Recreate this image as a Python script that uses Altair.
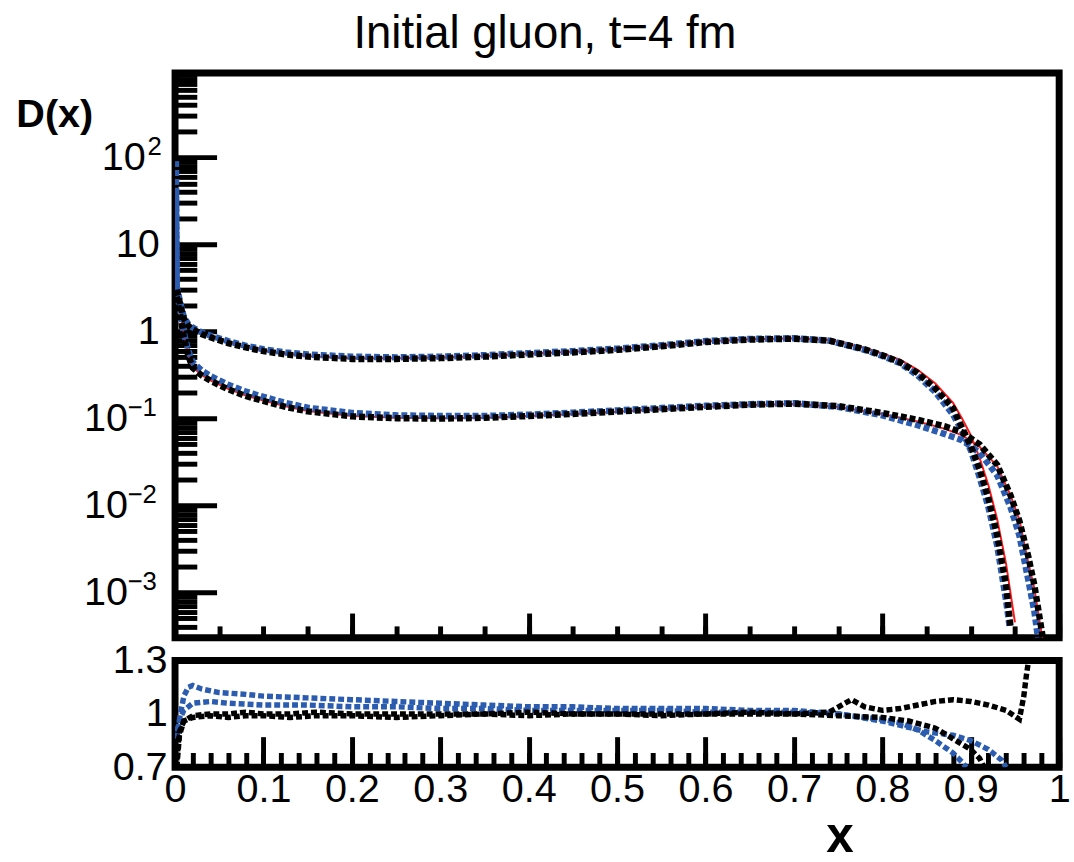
import altair as alt
import pandas as pd

TITLE = "Initial gluon, t=4 fm"
FONT = "Liberation Sans"

# ---------------- top panel: D(x) ----------------
# upper curve
up_x_red = [0.002, 0.006, 0.01, 0.015, 0.02, 0.03, 0.04, 0.06, 0.08, 0.10, 0.125, 0.15, 0.20, 0.25, 0.30,
            0.35, 0.40, 0.45, 0.50, 0.55, 0.60, 0.65, 0.70, 0.74, 0.78, 0.80, 0.82, 0.84, 0.86, 0.88,
            0.89, 0.90, 0.91, 0.92, 0.93, 0.94, 0.95]
up_y_red = [3.8, 2.1, 1.45, 1.17, 1.07, 0.95, 0.87, 0.745, 0.66, 0.6, 0.55, 0.52, 0.49, 0.49, 0.5,
            0.52, 0.55, 0.58, 0.62, 0.68, 0.76, 0.81, 0.83, 0.79, 0.64, 0.555, 0.47, 0.36, 0.25, 0.15,
            0.1, 0.064, 0.035, 0.017, 0.0068, 0.0021, 0.00045]
up_x_blue = [0.001, 0.002, 0.006, 0.01, 0.015, 0.02, 0.03, 0.04, 0.06, 0.08, 0.10, 0.125, 0.15, 0.20, 0.25,
             0.30, 0.35, 0.40, 0.45, 0.50, 0.55, 0.60, 0.65, 0.70, 0.74, 0.78, 0.80, 0.82, 0.84, 0.86,
             0.88, 0.89, 0.90, 0.91, 0.92, 0.93, 0.94, 0.944]
up_y_blue = [90, 3.2, 2.1, 1.45, 1.2, 1.1, 0.97, 0.89, 0.77, 0.68, 0.62, 0.57, 0.54, 0.51, 0.5,
             0.51, 0.53, 0.56, 0.59, 0.63, 0.69, 0.77, 0.815, 0.83, 0.78, 0.61, 0.52, 0.43, 0.31, 0.2,
             0.11, 0.072, 0.043, 0.021, 0.0095, 0.0034, 0.0008, 0.0004]
up_x_black = [0.002, 0.006, 0.01, 0.015, 0.02, 0.03, 0.04, 0.06, 0.08, 0.10, 0.125, 0.15, 0.20, 0.25, 0.30,
              0.35, 0.40, 0.45, 0.50, 0.55, 0.60, 0.65, 0.70, 0.74, 0.78, 0.80, 0.82, 0.84, 0.86, 0.88,
              0.89, 0.90, 0.91, 0.92, 0.93, 0.94, 0.945]
up_y_black = [3.0, 2.0, 1.4, 1.15, 1.05, 0.93, 0.85, 0.73, 0.65, 0.59, 0.54, 0.51, 0.48, 0.48, 0.49,
              0.51, 0.54, 0.57, 0.61, 0.67, 0.75, 0.80, 0.82, 0.78, 0.62, 0.53, 0.44, 0.33, 0.22, 0.13,
              0.078, 0.048, 0.026, 0.012, 0.0045, 0.0012, 0.0004]

# lower curve
lo_x_red = [0.002, 0.006, 0.01, 0.015, 0.02, 0.03, 0.04, 0.06, 0.08, 0.10, 0.125, 0.15, 0.20, 0.25, 0.30,
            0.35, 0.40, 0.45, 0.50, 0.55, 0.60, 0.65, 0.70, 0.75, 0.80, 0.84, 0.87, 0.89, 0.91, 0.93,
            0.945, 0.955, 0.965, 0.972, 0.978, 0.982]
lo_y_red = [3.4, 1.7, 0.88, 0.53, 0.385, 0.315, 0.272, 0.218, 0.182, 0.16, 0.137, 0.121, 0.106, 0.101, 0.1,
            0.101, 0.106, 0.112, 0.119, 0.128, 0.135, 0.142, 0.146, 0.135, 0.112, 0.092, 0.076, 0.064, 0.047, 0.028,
            0.013, 0.0068, 0.0022, 0.0011, 0.00045, 0.00026]
lo_x_blue = [0.001, 0.002, 0.006, 0.01, 0.015, 0.02, 0.03, 0.04, 0.06, 0.08, 0.10, 0.125, 0.15, 0.20, 0.25,
             0.30, 0.35, 0.40, 0.45, 0.50, 0.55, 0.60, 0.65, 0.70, 0.75, 0.80, 0.84, 0.87, 0.89, 0.91,
             0.93, 0.945, 0.955, 0.965, 0.972, 0.976]
lo_y_blue = [40, 2.9, 1.7, 0.95, 0.6, 0.44, 0.355, 0.305, 0.243, 0.202, 0.176, 0.15, 0.132, 0.115, 0.108,
             0.106, 0.106, 0.11, 0.116, 0.123, 0.131, 0.139, 0.145, 0.149, 0.135, 0.108, 0.083, 0.066, 0.056, 0.04,
             0.022, 0.0095, 0.0045, 0.0014, 0.0006, 0.0003]
lo_x_black = [0.002, 0.006, 0.01, 0.015, 0.02, 0.03, 0.04, 0.06, 0.08, 0.10, 0.125, 0.15, 0.20, 0.25, 0.30,
              0.35, 0.40, 0.45, 0.50, 0.55, 0.60, 0.65, 0.70, 0.75, 0.80, 0.84, 0.87, 0.89, 0.91, 0.93,
              0.945, 0.955, 0.965, 0.972, 0.978, 0.982]
lo_y_black = [2.5, 1.5, 0.85, 0.52, 0.38, 0.31, 0.27, 0.215, 0.18, 0.158, 0.135, 0.12, 0.105, 0.1, 0.099,
              0.101, 0.106, 0.112, 0.119, 0.127, 0.135, 0.143, 0.147, 0.138, 0.115, 0.096, 0.081, 0.069, 0.05, 0.029,
              0.013, 0.0066, 0.0026, 0.0012, 0.0005, 0.00028]

# ---------------- bottom panel: ratios ----------------
rA_x_black = [0.002, 0.005, 0.01, 0.02, 0.04, 0.06, 0.08, 0.1, 0.13, 0.16, 0.2, 0.25, 0.3, 0.35, 0.4, 0.45,
              0.5, 0.55, 0.6, 0.65, 0.7, 0.74, 0.765, 0.78, 0.8, 0.82, 0.84, 0.86, 0.88, 0.9, 0.92, 0.94,
              0.955, 0.96, 0.963, 0.966]
rA_y_black = [0.70, 0.88, 0.96, 0.98, 0.99, 0.98, 0.99, 0.99, 0.98, 0.99, 0.99, 0.98, 0.99, 1.0, 0.99, 1.0,
              1.0, 0.99, 1.0, 1.01, 1.0, 1.01, 1.08, 1.04, 1.02, 1.03, 1.05, 1.07, 1.08, 1.07, 1.05, 1.02,
              0.97, 1.1, 1.22, 1.32]
rB_x_black = [0.002, 0.005, 0.01, 0.02, 0.04, 0.06, 0.08, 0.1, 0.13, 0.16, 0.2, 0.25, 0.3, 0.35, 0.4, 0.45,
              0.5, 0.55, 0.6, 0.65, 0.7, 0.75, 0.8, 0.83, 0.86, 0.88, 0.9, 0.91, 0.915]
rB_y_black = [0.74, 0.9, 0.96, 0.99, 1.0, 1.0, 1.01, 1.0, 1.0, 1.01, 1.0, 1.0, 1.0, 1.0, 1.01, 1.0,
              1.0, 1.0, 1.0, 1.0, 1.0, 0.99, 0.98, 0.96, 0.92, 0.86, 0.8, 0.75, 0.7]
rA_x_blue = [0.002, 0.006, 0.01, 0.015, 0.02, 0.03, 0.05, 0.08, 0.1, 0.15, 0.2, 0.25, 0.3, 0.35, 0.4, 0.45,
             0.5, 0.55, 0.6, 0.65, 0.7, 0.75, 0.8, 0.85, 0.88, 0.9, 0.92, 0.935, 0.94]
rA_y_blue = [0.86, 1.0, 1.1, 1.15, 1.16, 1.14, 1.12, 1.11, 1.1, 1.09, 1.08, 1.07, 1.06, 1.05, 1.04, 1.04,
             1.03, 1.03, 1.03, 1.02, 1.02, 1.0, 0.96, 0.9, 0.88, 0.85, 0.8, 0.74, 0.7]
rB_x_blue = [0.002, 0.006, 0.01, 0.02, 0.04, 0.06, 0.1, 0.15, 0.2, 0.25, 0.3, 0.35, 0.4, 0.45, 0.5, 0.55,
             0.6, 0.65, 0.7, 0.75, 0.78, 0.8, 0.82, 0.84, 0.86, 0.88, 0.89, 0.895]
rB_y_blue = [0.9, 0.98, 1.02, 1.06, 1.07, 1.06, 1.05, 1.05, 1.04, 1.04, 1.03, 1.03, 1.02, 1.02, 1.02, 1.02,
             1.01, 1.01, 1.01, 1.0, 0.98, 0.97, 0.95, 0.91, 0.85, 0.78, 0.73, 0.7]

# ---------------- axes / ticks ----------------
# y labels of the log panel: plain ones, and "10" bases with a superscript exponent
y_plain_values = [1, 10]
y_plain_labels = ["1", "10"]
y_pos_values = [100]
y_pos_exps = ["2"]
y_neg_values = [1e-1, 1e-2, 1e-3]
y_neg_exps = ["\u22121", "\u22122", "\u22123"]
y_major_ticks = [1e-4, 1e-3, 1e-2, 1e-1, 1, 10, 100, 1000]
y_minor_ticks = [m * d for d in [1e-4, 1e-3, 1e-2, 1e-1, 1, 10, 100] for m in range(2, 10)]
y_minor_ticks = [v for v in y_minor_ticks if 3.0e-4 <= v <= 925]
x_top_major = [0, 0.2, 0.4, 0.6, 0.8, 1.0]
x_top_minor = [round(0.05 * i, 2) for i in range(21)]
x_bot_labels = [round(0.1 * i, 1) for i in range(11)]
x_bot_minor = [round(0.02 * i, 2) for i in range(51)]
r_tick_values = [0.7, 1.0, 1.3]

BLUE = "#2b5cb0"
RED = "#ff1a1a"

W, HT, HB = 894, 571, 108


def frame(curve, series, xs, ys):
    return pd.DataFrame({"x": xs, "y": ys, "curve": curve, "series": series})


top_df = pd.concat([
    frame("upper", "red", up_x_red, up_y_red),
    frame("upper", "blue", up_x_blue, up_y_blue),
    frame("upper", "black", up_x_black, up_y_black),
    frame("lower", "red", lo_x_red, lo_y_red),
    frame("lower", "blue", lo_x_blue, lo_y_blue),
    frame("lower", "black", lo_x_black, lo_y_black),
], ignore_index=True)

bot_df = pd.concat([
    frame("A", "blue", rA_x_blue, rA_y_blue),
    frame("B", "blue", rB_x_blue, rB_y_blue),
    frame("A", "black", rA_x_black, rA_y_black),
    frame("B", "black", rB_x_black, rB_y_black),
], ignore_index=True)

xs_top = alt.Scale(domain=[0, 1], nice=False, zero=False)
ys_top = alt.Scale(type="log", domain=[3.0e-4, 925], nice=False)
xs_bot = alt.Scale(domain=[0, 1], nice=False, zero=False)
ys_bot = alt.Scale(domain=[0.7, 1.3], nice=False, zero=False)


def make_expr(values, labels):
    expr = "''"
    for v, lab in zip(values, labels):
        expr = f"(datum.value > {v * 0.5} && datum.value < {v * 2}) ? '{lab}' : " + expr
    return expr


def label_axis(values, labels, size, padding, offset=0, **extra):
    return alt.Axis(orient="left", values=values, labelExpr=make_expr(values, labels), ticks=False,
                    tickSize=0, domain=False, grid=False, labelFontSize=size, labelPadding=padding,
                    labelOffset=offset, labelColor="black", labelFont=FONT, **extra)


y_label_axis = label_axis(y_plain_values, y_plain_labels, 40, 16,
                          title="D(x)", titleAngle=0, titleX=-161, titleY=54, titleAlign="left",
                          titleBaseline="alphabetic", titleFontSize=40, titleFontWeight="bold",
                          titleFont=FONT, titleColor="black")


def data_layer(df, series, color, dash, width, xscale, yscale, xaxis=None, yaxis=None):
    m = dict(color=color, strokeWidth=width, clip=True)
    if dash:
        m["strokeDash"] = dash
    return alt.Chart(df).transform_filter(alt.datum.series == series).mark_line(**m).encode(
        x=alt.X("x:Q", scale=xscale, axis=xaxis),
        y=alt.Y("y:Q", scale=yscale, axis=yaxis),
        detail="curve:N",
    )


def tick_axis(orient, offset, values, size):
    return alt.Axis(orient=orient, offset=offset, values=values, labels=False, domain=False,
                    grid=False, ticks=True, tickSize=size, tickWidth=5, tickColor="black", title=None)


def tick_layer(df, xscale, yscale, xaxis=None, yaxis=None):
    return alt.Chart(df).mark_point(opacity=0, clip=True).encode(
        x=alt.X("x:Q", scale=xscale, axis=xaxis),
        y=alt.Y("y:Q", scale=yscale, axis=yaxis),
    )


top = alt.layer(
    data_layer(top_df, "red", RED, None, 2, xs_top, ys_top, yaxis=y_label_axis),
    data_layer(top_df, "blue", BLUE, [6, 3], 6.5, xs_top, ys_top),
    data_layer(top_df, "black", "black", [6, 3], 6.5, xs_top, ys_top),
    tick_layer(top_df, xs_top, ys_top,
               xaxis=tick_axis("top", -HT, x_top_major, 25),
               yaxis=tick_axis("right", -W, y_major_ticks, 42)),
    tick_layer(top_df, xs_top, ys_top,
               xaxis=tick_axis("top", -HT, x_top_minor, 12),
               yaxis=tick_axis("right", -W, y_minor_ticks, 22)),
    # "10" bases and superscript exponents
    tick_layer(top_df, xs_top, ys_top, yaxis=label_axis(y_pos_values, ["10"], 40, 30, title=None)),
    tick_layer(top_df, xs_top, ys_top, yaxis=label_axis(y_pos_values, y_pos_exps, 26, 14, -11, title=None)),
    tick_layer(top_df, xs_top, ys_top, yaxis=label_axis(y_neg_values, ["10"] * 3, 40, 48, title=None)),
    tick_layer(top_df, xs_top, ys_top, yaxis=label_axis(y_neg_values, y_neg_exps, 26, 19, -11, title=None)),
).resolve_axis(x="independent", y="independent").properties(
    width=W, height=HT,
    title=alt.TitleParams(TITLE, fontSize=46, font=FONT, fontWeight="normal", anchor="middle",
                          offset=14, dx=-73, color="black"),
)

x_bot_axis = alt.Axis(values=x_bot_labels, format=".1~f", ticks=False, tickSize=0, domain=False,
                      grid=False, labelFontSize=40, labelPadding=3, labelFlush=False,
                      labelColor="black", labelFont=FONT,
                      title="x", titleFontSize=50, titleFontWeight="bold", titleFont=FONT,
                      titleX=672, titleY=85, titleAlign="center", titleBaseline="alphabetic",
                      titleColor="black")
y_bot_axis = alt.Axis(values=r_tick_values, format="~g", ticks=False, tickSize=0, domain=False,
                      grid=False, labelFontSize=40, labelPadding=8, labelFlush=False,
                      labelColor="black", labelFont=FONT, title=None)

bottom = alt.layer(
    data_layer(bot_df, "blue", BLUE, [6, 3], 5.5, xs_bot, ys_bot, xaxis=x_bot_axis, yaxis=y_bot_axis),
    data_layer(bot_df, "black", "black", [6, 3], 5.5, xs_bot, ys_bot),
    tick_layer(bot_df, xs_bot, ys_bot, xaxis=tick_axis("top", -HB, x_bot_labels, 31)),
    tick_layer(bot_df, xs_bot, ys_bot, xaxis=tick_axis("top", -HB, x_bot_minor, 15)),
).resolve_axis(x="independent", y="independent").properties(width=W, height=HB)

chart = alt.vconcat(top, bottom, spacing=23, bounds="flush").properties(
    padding={"left": 12, "top": 3, "right": 0, "bottom": 6}, background="white"
).configure_view(
    stroke="black", strokeWidth=7
)

chart.save("out.html", embed_options={"renderer": "svg", "actions": False})
